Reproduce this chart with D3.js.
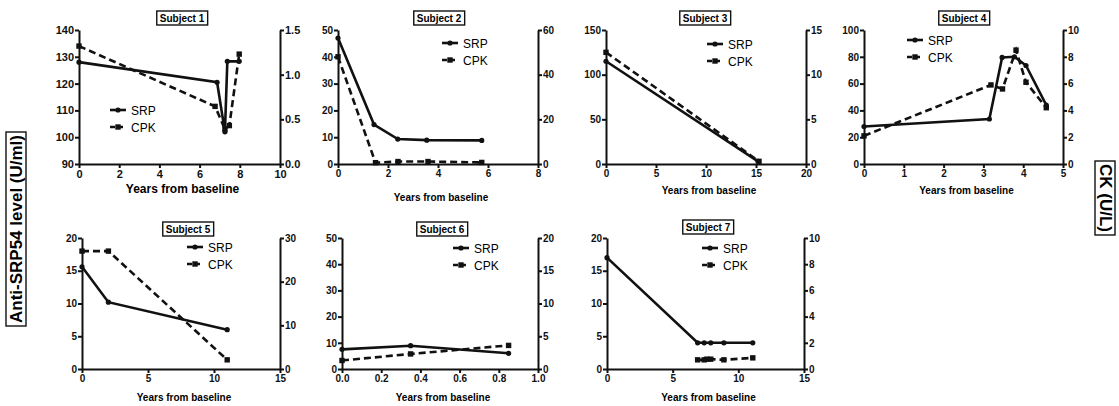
<!DOCTYPE html>
<html>
  <head>
    <meta charset="utf-8" />
    <title>Anti-SRP54 and CK over time</title>
    <script src="https://d3js.org/d3.v7.min.js"></script>
    <style>
      body { margin: 0; background: #fff; }
      text { font-family: Arial, "Liberation Sans", sans-serif; }
      .tick text { font-weight: bold; fill: #111; }
      .domain, .tick line { stroke: #111; stroke-width: 2; }
    </style>
  </head>
  <body>
    <svg id="chart" width="1119" height="406"></svg>

    <script>
      // ---- data ----
      var subjects = ["Subject 1", "Subject 2", "Subject 3", "Subject 4", "Subject 5", "Subject 6", "Subject 7"];

      // SRP (left axis, U/ml)
      var srpYears = [
        [0, 6.87, 7.26, 7.38, 7.97],
        [0, 1.44, 2.39, 3.55, 5.75],
        [0, 15.2],
        [0, 3.15, 3.47, 3.78, 4.07, 4.58],
        [0, 2, 11],
        [0, 0.35, 0.85],
        [0, 6.9, 7.4, 7.9, 8.9, 11.1]
      ];
      var srpValues = [
        [128, 120.5, 102, 128.3, 128.3],
        [47, 14.7, 9.3, 8.9, 8.8],
        [115, 3],
        [28, 33.6, 79.5, 80, 73.5, 44],
        [15.6, 10.2, 6],
        [7.5, 8.9, 6],
        [17, 4, 4, 4, 4, 4]
      ];

      // CPK (right axis, U/L)
      var cpkYears = [
        [0, 6.77, 7.26, 7.48, 7.97],
        [0, 1.5, 2.4, 3.6, 5.75],
        [0, 15.3],
        [0, 3.19, 3.48, 3.82, 4.07, 4.58],
        [0, 2, 11],
        [0, 0.35, 0.85],
        [6.9, 7.4, 7.6, 7.9, 8.9, 11.1]
      ];
      var cpkValues = [
        [1.32, 0.645, 0.39, 0.43, 1.23],
        [48, 0.6, 1.1, 1.1, 0.7],
        [12.5, 0.3],
        [2.1, 5.9, 5.6, 8.5, 6.1, 4.2],
        [27, 27, 2.1],
        [1.3, 2.3, 3.6],
        [0.7, 0.7, 0.75, 0.75, 0.7, 0.85]
      ];

      // axis ticks
      var xTicks = [
        [0, 2, 4, 6, 8, 10],
        [0, 2, 4, 6, 8],
        [0, 5, 10, 15, 20],
        [0, 1, 2, 3, 4, 5],
        [0, 5, 10, 15],
        [0, 0.2, 0.4, 0.6, 0.8, 1.0],
        [0, 5, 10, 15]
      ];
      var leftTicks = [
        [90, 100, 110, 120, 130, 140],
        [0, 10, 20, 30, 40, 50],
        [0, 50, 100, 150],
        [0, 20, 40, 60, 80, 100],
        [0, 5, 10, 15, 20],
        [0, 10, 20, 30, 40, 50],
        [0, 5, 10, 15, 20]
      ];
      var rightTicks = [
        [0, 0.5, 1.0, 1.5],
        [0, 20, 40, 60],
        [0, 5, 10, 15],
        [0, 2, 4, 6, 8, 10],
        [0, 10, 20, 30],
        [0, 5, 10, 15, 20],
        [0, 2, 4, 6, 8, 10]
      ];
      var xFormats = ["d", "d", "d", "d", "d", ".1f", "d"];
      var rightFormats = [".1f", "d", "d", "d", "d", "d", "d"];

      // ---- panel layout (pixels) ----
      var layout = [
        { x0: 79,  x1: 280,  y0: 30,  y1: 164, big: true,  xlabY: 193, legX: 110, legY: 110 },
        { x0: 338, x1: 538,  y0: 30,  y1: 164, big: false, xlabY: 201, legX: 442, legY: 43 },
        { x0: 606, x1: 806,  y0: 30,  y1: 164, big: false, xlabY: 194, legX: 707, legY: 44 },
        { x0: 864, x1: 1063, y0: 30,  y1: 164, big: false, xlabY: 194, legX: 907, legY: 40 },
        { x0: 82,  x1: 280,  y0: 238, y1: 369, big: false, xlabY: 401, legX: 187, legY: 247 },
        { x0: 342, x1: 538,  y0: 238, y1: 369, big: false, xlabY: 401, legX: 453, legY: 248 },
        { x0: 607, x1: 804,  y0: 238, y1: 369, big: false, xlabY: 401, legX: 702, legY: 248 }
      ];
      var titleCenters = [[182, 18], [439, 18], [705, 18], [964, 18], [188, 229], [442, 229], [708, 227]];

      var svg = d3.select("#chart");

      function drawMarkers(g, pts, isSquare) {
        if (isSquare) {
          g.selectAll(null).data(pts).enter().append("rect")
            .attr("x", function(d) { return d[0] - 2.7; })
            .attr("y", function(d) { return d[1] - 2.7; })
            .attr("width", 5.4).attr("height", 5.4)
            .attr("fill", "#111");
        } else {
          g.selectAll(null).data(pts).enter().append("circle")
            .attr("cx", function(d) { return d[0]; })
            .attr("cy", function(d) { return d[1]; })
            .attr("r", 2.6)
            .attr("fill", "#111");
        }
      }

      // text with a rectangle drawn round it
      function boxedText(parent, label, fontSize, bold, pad, vpad) {
        var box = parent.append("rect");
        var t = parent.append("text")
          .attr("text-anchor", "middle")
          .style("font-size", fontSize + "px")
          .style("font-weight", bold ? "bold" : "normal")
          .text(label);
        var bb = t.node().getBBox();
        t.attr("y", -(bb.y + bb.height / 2));
        box.attr("x", bb.x - pad).attr("y", -bb.height / 2 - vpad)
          .attr("width", bb.width + 2 * pad).attr("height", bb.height + 2 * vpad)
          .attr("fill", "#fff").attr("stroke", "#111").attr("stroke-width", 1.4);
      }

      subjects.forEach(function(name, i) {
        var p = layout[i];
        var g = svg.append("g");
        var fs = p.big ? 11 : 10;

        var x = d3.scaleLinear().domain(d3.extent(xTicks[i])).range([p.x0, p.x1]);
        var yL = d3.scaleLinear().domain(d3.extent(leftTicks[i])).range([p.y1, p.y0]);
        var yR = d3.scaleLinear().domain(d3.extent(rightTicks[i])).range([p.y1, p.y0]);

        // axes
        g.append("g").attr("transform", "translate(0," + p.y1 + ")")
          .call(d3.axisBottom(x).tickValues(xTicks[i]).tickFormat(d3.format(xFormats[i]))
            .tickSize(4).tickSizeOuter(0).tickPadding(2))
          .selectAll("text").style("font-size", fs + "px");
        g.append("g").attr("transform", "translate(" + p.x0 + ",0)")
          .call(d3.axisLeft(yL).tickValues(leftTicks[i]).tickFormat(d3.format("d"))
            .tickSize(4).tickSizeOuter(0).tickPadding(1))
          .selectAll("text").style("font-size", fs + "px");
        g.append("g").attr("transform", "translate(" + p.x1 + ",0)")
          .call(d3.axisRight(yR).tickValues(rightTicks[i]).tickFormat(d3.format(rightFormats[i]))
            .tickSize(4).tickSizeOuter(0).tickPadding(1))
          .selectAll("text").style("font-size", fs + "px");
        g.selectAll(".domain").attr("fill", "none");

        // series
        var srpPts = srpYears[i].map(function(t, k) { return [x(t), yL(srpValues[i][k])]; });
        var cpkPts = cpkYears[i].map(function(t, k) { return [x(t), yR(cpkValues[i][k])]; });
        var line = d3.line();

        g.append("path").attr("d", line(cpkPts))
          .attr("fill", "none").attr("stroke", "#111").attr("stroke-width", 2.6)
          .attr("stroke-dasharray", "7,4");
        drawMarkers(g, cpkPts, true);

        g.append("path").attr("d", line(srpPts))
          .attr("fill", "none").attr("stroke", "#111").attr("stroke-width", 2.6);
        drawMarkers(g, srpPts, false);

        // x-axis label
        g.append("text")
          .attr("x", (p.x0 + p.x1) / 2 + 3).attr("y", p.xlabY)
          .attr("text-anchor", "middle")
          .style("font-size", (p.big ? 12 : 10) + "px").style("font-weight", "bold")
          .text("Years from baseline");

        // boxed title
        var tg = g.append("g")
          .attr("transform", "translate(" + titleCenters[i][0] + "," + titleCenters[i][1] + ")");
        boxedText(tg, name, 10, true, 3, 1.5);

        // legend
        [["SRP", false], ["CPK", true]].forEach(function(item, k) {
          var ly = p.legY + k * 17;
          g.append("line")
            .attr("x1", p.legX).attr("x2", p.legX + 16)
            .attr("y1", ly).attr("y2", ly)
            .attr("stroke", "#111").attr("stroke-width", 2.6)
            .attr("stroke-dasharray", item[1] ? "5,3" : null);
          drawMarkers(g, [[p.legX + 8, ly]], item[1]);
          g.append("text")
            .attr("x", p.legX + 21).attr("y", ly + 4.5)
            .style("font-size", "12px")
            .text(item[0]);
        });
      });

      // shared boxed axis titles
      var leftLab = svg.append("g").attr("transform", "translate(16,229) rotate(-90)");
      boxedText(leftLab, "Anti-SRP54 level (U/ml)", 17, true, 3, 0.5);
      var rightLab = svg.append("g").attr("transform", "translate(1105,198) rotate(90)");
      boxedText(rightLab, "CK (U/L)", 17, true, 3, 0.5);
    </script>
  </body>
</html>
